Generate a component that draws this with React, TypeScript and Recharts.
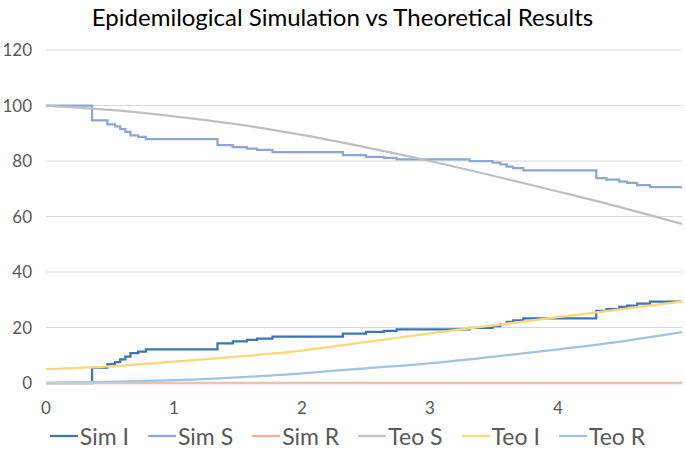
import React from 'react';
import { LineChart, Line, XAxis, YAxis, CartesianGrid, Legend } from 'recharts';

// simulation step times and values
const simT = [0, 0.36, 0.48, 0.54, 0.58, 0.62, 0.66, 0.72, 0.78, 1.34, 1.46, 1.57, 1.65, 1.77, 2.32, 2.5, 2.64, 2.74, 3.31, 3.49, 3.55, 3.6, 3.65, 3.73, 4.3, 4.38, 4.48, 4.54, 4.62, 4.72, 4.97];
const simI = [0, 5.5, 6.8, 7.5, 8.5, 9.5, 10.8, 11.3, 12.1, 14.3, 15.0, 15.5, 16.0, 16.7, 17.8, 18.4, 18.8, 19.3, 19.9, 20.5, 21.2, 22.0, 22.6, 23.3, 26.0, 26.6, 27.4, 27.9, 28.6, 29.3, 29.3];
const simS = [100, 94.6, 93.2, 92.5, 91.5, 90.5, 89.2, 88.7, 87.9, 85.7, 85.0, 84.5, 84.0, 83.2, 82.1, 81.5, 81.1, 80.6, 80.0, 79.4, 78.8, 78.0, 77.4, 76.6, 73.8, 73.3, 72.6, 72.1, 71.3, 70.6, 70.6];
const simRT = [0, 4.97];
const simR = [0, 0];

// theoretical curves
const teoT = [0, 0.5, 1, 1.5, 2, 2.5, 3, 3.5, 4, 4.5, 4.97];
const teoS = [100, 98.4, 96.1, 93.2, 89.4, 84.9, 80.0, 74.6, 69.0, 63.2, 57.3];
const teoI = [5.0, 6.0, 7.7, 9.5, 11.7, 14.7, 17.9, 20.8, 23.7, 26.6, 29.3];
const teoR = [0, 0.4, 1.0, 2.0, 3.5, 5.3, 7.1, 9.5, 12.1, 15.0, 18.3];

const seriesOrder = ['Sim I', 'Sim S', 'Sim R', 'Teo S', 'Teo I', 'Teo R'];
const xTicks = [0, 1, 2, 3, 4];
const yTicks = [0, 20, 40, 60, 80, 100, 120];

const pts = (ts: number[], vs: number[]) => ts.map((t, i) => ({ t, v: vs[i] }));

const FONT = 'Lato, "Open Sans", sans-serif';

const renderLegend = (props: any) => {
    const payload = [...(props.payload || [])].sort(
        (a: any, b: any) => seriesOrder.indexOf(a.value) - seriesOrder.indexOf(b.value)
    );
    return (
        <div style={{ display: 'flex', justifyContent: 'center', alignItems: 'center', fontFamily: FONT, fontSize: 23, color: '#595959', paddingLeft: 32 }}>
            {payload.map((p: any) => (
                <span key={p.value} style={{ display: 'inline-flex', alignItems: 'center', marginRight: 19 }}>
                    <svg width={28} height={4} style={{ marginRight: 2 }}>
                        <line x1={0} y1={2} x2={28} y2={2} stroke={p.color} strokeWidth={2.25} />
                    </svg>
                    <span>{p.value}</span>
                </span>
            ))}
        </div>
    );
};

export default function App() {
    return (
        <div style={{ position: 'absolute', left: 0, top: 0, width: 685, height: 460, background: '#fff', fontFamily: FONT }}>
            <div style={{ position: 'absolute', top: 2, left: 0, width: 685, textAlign: 'center', fontSize: 24, color: '#000' }}>
                Epidemilogical Simulation vs Theoretical Results
            </div>
            <LineChart width={685} height={460} margin={{ top: 50, right: 3, left: 0, bottom: 4 }}>
                <CartesianGrid vertical={false} stroke="#d9d9d9" />
                <XAxis
                    dataKey="t"
                    type="number"
                    domain={[0, 4.97]}
                    ticks={xTicks}
                    allowDataOverflow
                    height={39}
                    tickSize={0}
                    tickMargin={19}
                    axisLine={{ stroke: '#d9d9d9' }}
                    tick={{ fill: '#595959', fontSize: 17, fontFamily: FONT }}
                />
                <YAxis
                    type="number"
                    domain={[0, 120]}
                    ticks={yTicks}
                    width={46}
                    axisLine={false}
                    tickLine={false}
                    tickSize={0}
                    tickMargin={14}
                    tick={{ fill: '#595959', fontSize: 17, fontFamily: FONT }}
                />
                <Legend verticalAlign="bottom" height={34} content={renderLegend} />
                <Line data={pts(simT, simI)} dataKey="v" name="Sim I" type="stepAfter" stroke="#3b76b6" strokeWidth={2.25} dot={false} isAnimationActive={false} />
                <Line data={pts(simT, simS)} dataKey="v" name="Sim S" type="stepAfter" stroke="#8aa6dc" strokeWidth={2.25} dot={false} isAnimationActive={false} />
                <Line data={pts(simRT, simR)} dataKey="v" name="Sim R" type="linear" stroke="#f4b183" strokeWidth={2.5} dot={false} isAnimationActive={false} />
                <Line data={pts(teoT, teoS)} dataKey="v" name="Teo S" type="monotone" stroke="#bfbfbf" strokeWidth={2.25} dot={false} isAnimationActive={false} />
                <Line data={pts(teoT, teoI)} dataKey="v" name="Teo I" type="monotone" stroke="#ffd775" strokeWidth={2.25} dot={false} isAnimationActive={false} />
                <Line data={pts(teoT, teoR)} dataKey="v" name="Teo R" type="monotone" stroke="#9dc3e6" strokeWidth={2.25} dot={false} isAnimationActive={false} />
            </LineChart>
        </div>
    );
}
